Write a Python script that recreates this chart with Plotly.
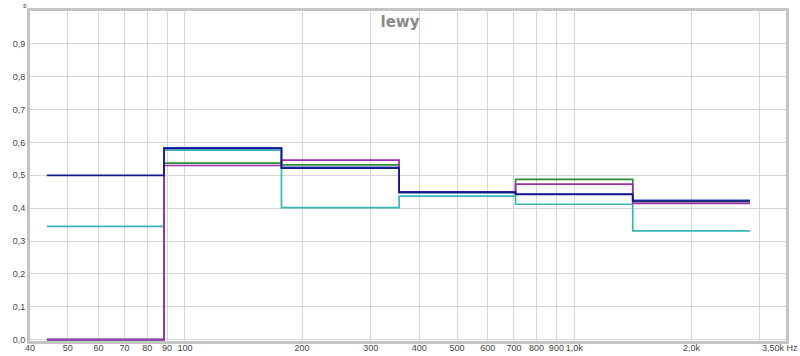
import plotly.graph_objects as go

# Octave band edges (Hz)
band_edges = [44.2, 88.4, 177, 355, 707, 1414, 2828]

# Values per band (s): 63, 125, 250, 500, 1k, 2k
cyan_vals   = [0.345, 0.577, 0.402, 0.437, 0.412, 0.331]
green_vals  = [0.0, 0.537, 0.532, 0.448, 0.488, 0.420]
purple_vals = [0.0, 0.530, 0.546, 0.450, 0.473, 0.415]
blue_vals   = [0.0, 0.584, 0.524, 0.447, 0.443, 0.424]
navy_vals   = [0.500, 0.582, 0.522, 0.449, 0.442, 0.422]

series = [
    ("blue", blue_vals, "#2347d6"),
    ("cyan", cyan_vals, "#3ab5b8"),
    ("green", green_vals, "#2f8a3a"),
    ("purple", purple_vals, "#a22cb0"),
    ("navy", navy_vals, "#16168a"),
]

x_tickvals = [40, 50, 60, 70, 80, 90, 100, 200, 300, 400, 500, 600, 700, 800, 900, 1000, 2000, 3000]
x_ticktext = ["40", "50", "60", "70", "80", "90", "100", "200", "300", "400", "500", "600", "700",
              "800", "900", "1,0k", "2,0k", ""]
y_tickvals = [0.0, 0.1, 0.2, 0.3, 0.4, 0.5, 0.6, 0.7, 0.8, 0.9, 1.0]
y_ticktext = ["0,0", "0,1", "0,2", "0,3", "0,4", "0,5", "0,6", "0,7", "0,8", "0,9", ""]

fig = go.Figure()
for name, vals, col in series:
    fig.add_trace(go.Scatter(
        x=band_edges, y=vals + [vals[-1]], mode="lines", name=name,
        line=dict(color=col, width=1.7, shape="hv"), showlegend=False,
    ))

tick_font = dict(family="Liberation Sans, Arial, sans-serif", size=9, color="#444444")

fig.update_layout(
    width=800, height=356,
    margin=dict(l=30, r=14, t=11, b=15, autoexpand=False),
    paper_bgcolor="white", plot_bgcolor="white",
    title=dict(text="<b>lewy</b>", x=0.5, xanchor="center", y=1 - 22 / 356, yanchor="middle",
               yref="container", font=dict(family="DejaVu Sans, Verdana, sans-serif", size=15, color="#8a8a8a")),
    xaxis=dict(type="log", range=[1.60206, 3.544068], tickvals=x_tickvals, ticktext=x_ticktext,
               tickangle=0,
               showgrid=True, gridcolor="#d6d6d6", gridwidth=1, zeroline=False,
               showline=True, linecolor="#c4c4c4", linewidth=3, mirror=True,
               ticks="", tickfont=tick_font, ticklabelstandoff=-4, automargin=False),
    yaxis=dict(range=[-0.004, 1.0], tickvals=y_tickvals, ticktext=y_ticktext,
               showgrid=True, gridcolor="#d6d6d6", gridwidth=1, zeroline=False,
               showline=True, linecolor="#c4c4c4", linewidth=3, mirror=True,
               ticks="", tickfont=tick_font, automargin=False),
    annotations=[
        dict(text="s", xref="paper", yref="paper", x=-0.001, y=1.0, xanchor="right", yanchor="bottom",
             showarrow=False, font=dict(family="Liberation Sans, Arial, sans-serif", size=7, color="#444444")),
        dict(text="3,50k Hz", xref="paper", yref="paper", x=1.0 + 14 / 756, y=0, xanchor="right", yanchor="top",
             yshift=0, showarrow=False, font=tick_font),
    ],
)

fig.write_html("out.html")
